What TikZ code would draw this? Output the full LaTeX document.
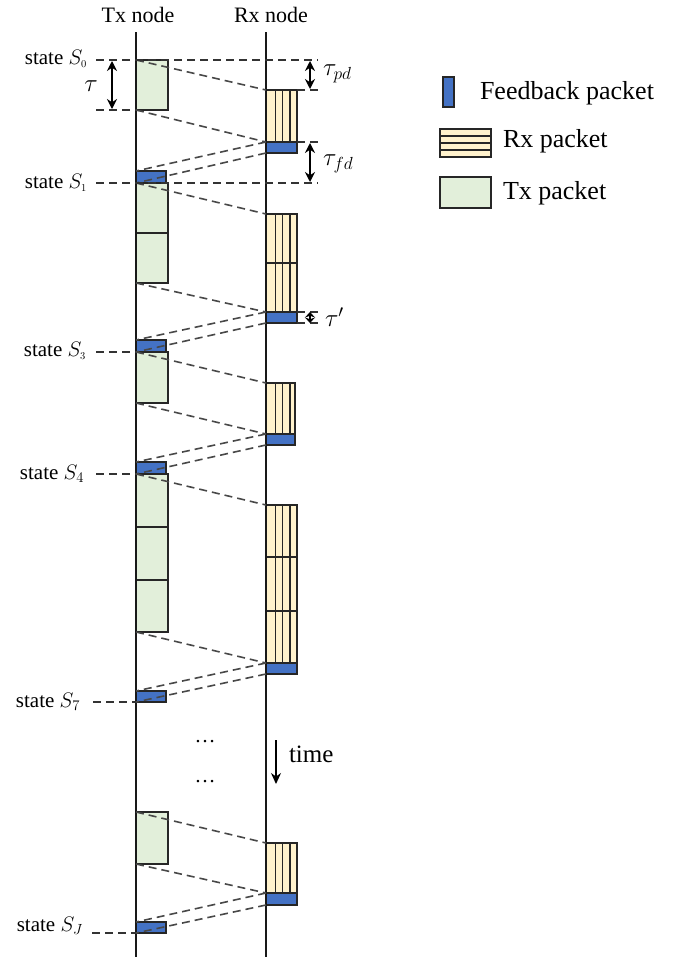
\RequirePackage{fix-cm}
\documentclass[tikz,border=0pt]{standalone}
\usepackage{fontspec}
\setmainfont{Liberation Serif}
\usetikzlibrary{arrows.meta,fit}
\definecolor{txgreen}{RGB}{226,239,218}
\definecolor{rxyellow}{RGB}{255,242,204}
\definecolor{fbblue}{RGB}{68,114,196}
\definecolor{boxline}{RGB}{38,38,38}
\definecolor{dashgray}{RGB}{72,72,72}
\newcommand\statefnt{\fontsize{21}{25}\selectfont}
\newcommand\headfnt{\fontsize{22}{26}\selectfont}
\newcommand\legfnt{\fontsize{26}{30}\selectfont}
\newcommand\taufnt{\fontsize{25}{30}\selectfont}
\begin{document}
\begin{tikzpicture}[x=1pt,y=-1pt,
  axis/.style={line width=2.8pt, black!90},
  box/.style={draw=boxline, line width=1.3pt, inner sep=0pt, outer sep=0pt},
  txp/.style={box, fill=txgreen},
  rxp/.style={box, fill=rxyellow, path picture={
      \foreach \d in {9.5,16.75,24}{
        \draw[line width=1.2pt, boxline] ([xshift=\d pt]path picture bounding box.north west) -- ([xshift=\d pt]path picture bounding box.south west);}}},
  rxleg/.style={box, fill=rxyellow, path picture={
      \foreach \d in {7,14,21}{
        \draw[line width=1.2pt, boxline] ([yshift=-\d pt]path picture bounding box.north west) -- ([yshift=-\d pt]path picture bounding box.north east);}}},
  fbp/.style={box, fill=fbblue},
  conn/.style={dashgray, line width=1.6pt, dash pattern=on 8pt off 5pt},
  hl/.style={black!80, line width=1.4pt, dash pattern=on 8pt off 5pt},
  dimarrow/.style={{Stealth[length=10pt,width=10pt]}-{Stealth[length=10pt,width=10pt]}, line width=1.4pt},
  txtnode/.style={inner sep=0pt, outer sep=0pt},
]
\useasboundingbox (0,0) rectangle (684,961);

% headers
\node[txtnode, font=\headfnt] (htx) at (138,15) {Tx node};
\node[txtnode, font=\headfnt] (hrx) at (271,15) {Rx node};

% packets
\node[txp, fit={(136,60) (168,110)}] (tx0) {};
\node[rxp, fit={(266,90) (297,142)}] (rx0) {};
\node[fbp, fit={(266,142) (297,153)}] (rfb0) {};
\node[fbp, fit={(136,171) (166,183)}] (tfb1) {};

\node[txp, fit={(136,183) (168,233)}] (tx1a) {};
\node[txp, fit={(136,233) (168,283)}] (tx1b) {};
\node[rxp, fit={(266,214) (297,263)}] (rx1a) {};
\node[rxp, fit={(266,263) (297,312)}] (rx1b) {};
\node[fbp, fit={(266,312) (297,323)}] (rfb1) {};
\node[fbp, fit={(136,340) (166,352)}] (tfb3) {};

\node[txp, fit={(136,352) (168,403)}] (tx3) {};
\node[rxp, fit={(266,383) (295,434)}] (rx3) {};
\node[fbp, fit={(266,434) (295,445)}] (rfb3) {};
\node[fbp, fit={(136,462) (166,474)}] (tfb4) {};

\node[txp, fit={(136,474) (168,527)}] (tx4a) {};
\node[txp, fit={(136,527) (168,580)}] (tx4b) {};
\node[txp, fit={(136,580) (168,632)}] (tx4c) {};
\node[rxp, fit={(266,505) (297,557)}] (rx4a) {};
\node[rxp, fit={(266,557) (297,611)}] (rx4b) {};
\node[rxp, fit={(266,611) (297,663)}] (rx4c) {};
\node[fbp, fit={(266,663) (297,674)}] (rfb4) {};
\node[fbp, fit={(136,691) (166,702)}] (tfb7) {};

\node[txp, fit={(136,812) (168,864)}] (txJ) {};
\node[rxp, fit={(266,843) (297,893)}] (rxJ) {};
\node[fbp, fit={(266,893) (297,905)}] (rfbJ) {};
\node[fbp, fit={(136,922) (166,933)}] (tfbJ) {};

% axes
\coordinate (txtop) at (136,32);
\coordinate (txbot) at (136,957);
\coordinate (rxtop) at (266,32);
\coordinate (rxbot) at (266,957);
\draw[axis] (txtop) -- (txbot);
\draw[axis] (rxtop) -- (rxbot);

% connectors
\draw[conn] (tx0.north west) -- (rx0.north west);
\draw[conn] (tx0.south west) -- (rx0.south west);
\draw[conn] (rfb0.north west) -- (tfb1.north west);
\draw[conn] (rfb0.south west) -- (tfb1.south west);
\draw[conn] (tx1a.north west) -- (rx1a.north west);
\draw[conn] (tx1b.south west) -- (rx1b.south west);
\draw[conn] (rfb1.north west) -- (tfb3.north west);
\draw[conn] (rfb1.south west) -- (tfb3.south west);
\draw[conn] (tx3.north west) -- (rx3.north west);
\draw[conn] (tx3.south west) -- (rx3.south west);
\draw[conn] (rfb3.north west) -- (tfb4.north west);
\draw[conn] (rfb3.south west) -- (tfb4.south west);
\draw[conn] (tx4a.north west) -- (rx4a.north west);
\draw[conn] (tx4c.south west) -- (rx4c.south west);
\draw[conn] (rfb4.north west) -- (tfb7.north west);
\draw[conn] (rfb4.south west) -- (tfb7.south west);
\draw[conn] (txJ.north west) -- (rxJ.north west);
\draw[conn] (txJ.south west) -- (rxJ.south west);
\draw[conn] (rfbJ.north west) -- (tfbJ.north west);
\draw[conn] (rfbJ.south west) -- (tfbJ.south west);

% state labels
\node[txtnode, anchor=base east, font=\statefnt] (ls0) at (87,64) {state $S_{\scriptscriptstyle 0}$};
\node[txtnode, anchor=base east, font=\statefnt] (ls1) at (87,188) {state $S_{\scriptscriptstyle 1}$};
\node[txtnode, anchor=base east, font=\statefnt] (ls3) at (86,356) {state $S_{\scriptscriptstyle 3}$};
\node[txtnode, anchor=base east, font=\statefnt] (ls4) at (84,479) {state $S_4$};
\node[txtnode, anchor=base east, font=\statefnt] (ls7) at (80,707) {state $S_7$};
\node[txtnode, anchor=base east, font=\statefnt] (lsJ) at (83,931) {state $S_J$};

% horizontal dashed reference lines
\coordinate (s0l) at (96,60);   \coordinate (s0r) at (318,60);
\coordinate (t0l) at (96,110);
\coordinate (pdr) at (318,90);
\coordinate (fdr) at (318,142);
\coordinate (s1l) at (96,183);  \coordinate (s1r) at (318,183);
\coordinate (ta) at (318,312);  \coordinate (tb) at (318,323);
\coordinate (s3l) at (96,352);
\coordinate (s4l) at (96,474);
\coordinate (s7l) at (93,702);
\coordinate (sJl) at (92,933);
\draw[hl] (s0l) -- (s0r);
\draw[hl] (t0l) -- (tx0.south west);
\draw[hl] (rx0.north east) -- (pdr);
\draw[hl] (rfb0.north east) -- (fdr);
\draw[hl] (s1l) -- (s1r);
\draw[hl] (rfb1.north east) -- (ta);
\draw[hl] (rfb1.south east) -- (tb);
\draw[hl] (s3l) -- (tfb3.south west);
\draw[hl] (s4l) -- (tfb4.south west);
\draw[hl] (s7l) -- (tfb7.south west);
\draw[hl] (sJl) -- (tfbJ.south west);

% dimension arrows
\coordinate (tau1) at (112,61);  \coordinate (tau2) at (112,109);
\coordinate (pd1) at (310,61);   \coordinate (pd2) at (310,89);
\coordinate (fd1) at (310,143);  \coordinate (fd2) at (310,182);
\coordinate (tp1) at (310,312);  \coordinate (tp2) at (310,323);
\coordinate (tpm) at (310,317.5);
\draw[dimarrow] (tau1) -- (tau2);
\draw[dimarrow] (pd1) -- (pd2);
\draw[dimarrow] (fd1) -- (fd2);
\draw[line width=1.4pt, -{Stealth[length=5.5pt,width=10pt]}] (tpm) -- (tp1);
\draw[line width=1.4pt, -{Stealth[length=5.5pt,width=10pt]}] (tpm) -- (tp2);

\node[txtnode, font=\taufnt] (ltau) at (91,86) {$\tau$};
\node[txtnode, anchor=west, font=\taufnt] (lpd) at (323,74) {$\tau_{pd}$};
\node[txtnode, anchor=west, font=\taufnt] (lfd) at (323,164) {$\tau_{fd}$};
\node[txtnode, anchor=west, font=\taufnt] (ltp) at (325,317) {$\tau'$};

% dots and time
\node[txtnode, font=\statefnt] (dots1) at (205,742) {\dots};
\node[txtnode, font=\statefnt] (dots2) at (205,782) {\dots};
\coordinate (tm1) at (276,740); \coordinate (tm2) at (276,784);
\draw[line width=1.4pt, -{Stealth[length=11pt,width=10pt]}] (tm1) -- (tm2);
\node[txtnode, anchor=west, font=\fontsize{25}{30}\selectfont] (ltime) at (289,754) {time};

% legend
\node[fbp, fit={(443,77) (454,107)}] (legfb) {};
\node[txtnode, anchor=west, font=\legfnt] (legfbt) at (480,93) {Feedback packet};
\node[rxleg, fit={(440,129) (491,157)}] (legrx) {};
\node[txtnode, anchor=west, font=\legfnt] (legrxt) at (503,141) {Rx packet};
\node[txp, fit={(440,177) (491,208)}] (legtx) {};
\node[txtnode, anchor=west, font=\legfnt] (legtxt) at (503,193) {Tx packet};
\end{tikzpicture}
\end{document}
